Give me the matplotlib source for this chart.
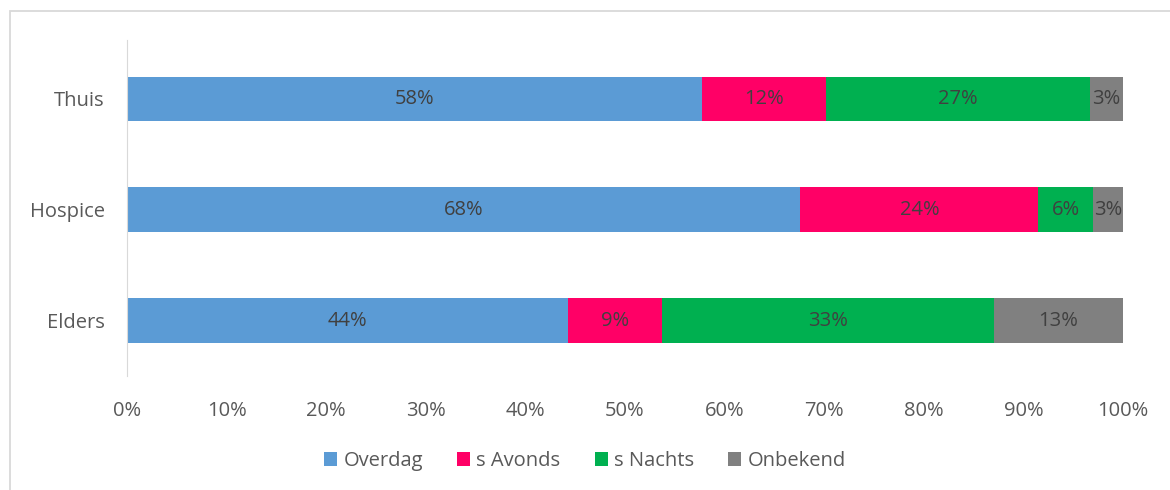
import numpy as np
import matplotlib.pyplot as plt
from matplotlib.patches import Rectangle

plt.rcParams['font.family'] = ['Open Sans', 'DejaVu Sans']

# data (share of deaths, %)
places = ["Thuis", "Hospice", "Elders"]
series = ["Overdag", "s Avonds", "s Nachts", "Onbekend"]
overdag = [57.7, 67.6, 44.3]
avonds = [12.5, 23.9, 9.4]
nachts = [26.5, 5.5, 33.3]
onbekend = [3.3, 3.0, 13.0]
labels = [["58%", "68%", "44%"],
          ["12%", "24%", "9%"],
          ["27%", "6%", "33%"],
          ["3%", "3%", "13%"]]
colors = ["#5b9bd5", "#ff0066", "#00b050", "#808080"]

fig = plt.figure(figsize=(11.7, 4.9), dpi=100)
ax = fig.add_axes([127 / 1170, 1 - 376 / 490, (1123 - 127) / 1170, (376 - 40) / 490])

# chart area border (cut off at right and bottom in the original)
fig.patches.append(Rectangle((10 / 1170, -0.1), 1.2, 1 - 11 / 490 + 0.1,
                             transform=fig.transFigure, fill=False,
                             edgecolor="#d9d9d9", linewidth=1.3))

y = np.arange(len(places))
left = np.zeros(len(places))
for vals, name, col, lab in zip([overdag, avonds, nachts, onbekend], series, colors, labels):
    vals = np.array(vals)
    ax.barh(y, vals, left=left, height=0.4, color=col, label=name)
    for yi, l, v, t in zip(y, left, vals, lab):
        ax.text(l + v / 2, yi, t, ha="center", va="center", fontsize=14.5, color="#404040")
    left = left + vals

ax.set_xlim(0, 100)
ax.set_ylim(2.5, -0.53)
ax.set_yticks(y)
ax.set_yticklabels(places)
ax.set_xticks(np.arange(0, 101, 10))
ax.set_xticklabels([f"{v}%" for v in range(0, 101, 10)])
ax.tick_params(axis="both", length=0, labelsize=14.5, colors="#595959")
ax.tick_params(axis="x", pad=18)
ax.tick_params(axis="y", pad=16)
for s in ["top", "right", "bottom"]:
    ax.spines[s].set_visible(False)
ax.spines["left"].set_color("#d9d9d9")

fig.legend(loc="center", bbox_to_anchor=(0.5, 1 - 461 / 490), ncol=4, frameon=False,
           fontsize=14.5, handlelength=0.65, handleheight=0.65, handletextpad=0.3,
           columnspacing=1.7, labelcolor="#595959")

fig.savefig("out.png", dpi=100)
